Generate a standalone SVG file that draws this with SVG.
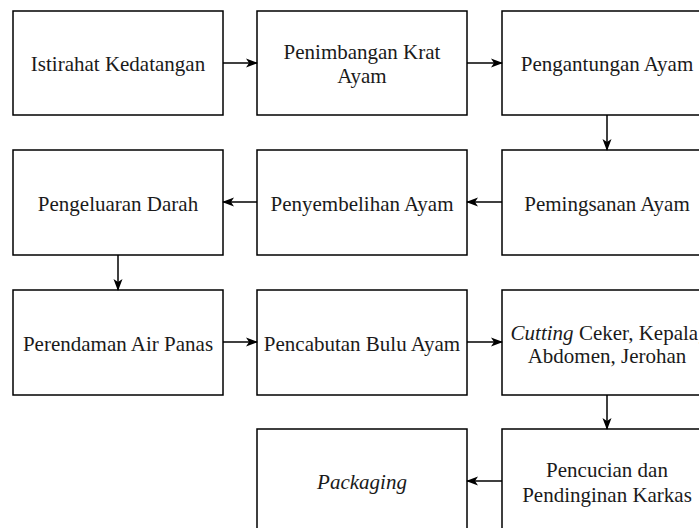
<svg xmlns="http://www.w3.org/2000/svg" width="699" height="528" viewBox="0 0 699 528">
<style>
.box{fill:#fff;stroke:#000;stroke-width:1.5}
.t{font-family:"Liberation Serif","Times New Roman",serif;font-size:21px;fill:#1a1a1a;text-anchor:middle}
.c{stroke:#000;stroke-width:1.5;fill:none;marker-end:url(#ah)}
</style>
<defs>
<marker id="ah" viewBox="0 0 12 10" refX="11" refY="5" markerWidth="12" markerHeight="10" markerUnits="userSpaceOnUse" orient="auto">
<path d="M0,0.5 L12,5 L0,9.5 L3,5 Z" fill="#000"/>
</marker>
</defs>
<rect width="699" height="528" fill="#fff"/>
<g id="n1"><rect class="box" x="13" y="11" width="210" height="104"/><text class="t" x="118" y="71">Istirahat Kedatangan</text></g>
<g id="n2"><rect class="box" x="257" y="11" width="210" height="104"/><text class="t" x="362" y="59">Penimbangan Krat</text><text class="t" x="362" y="83">Ayam</text></g>
<g id="n3"><rect class="box" x="502" y="11" width="210" height="104"/><text class="t" x="607" y="71">Pengantungan Ayam</text></g>
<g id="n4"><rect class="box" x="502" y="150" width="210" height="105"/><text class="t" x="607" y="211">Pemingsanan Ayam</text></g>
<g id="n5"><rect class="box" x="257" y="150" width="210" height="105"/><text class="t" x="362" y="211">Penyembelihan Ayam</text></g>
<g id="n6"><rect class="box" x="13" y="150" width="210" height="105"/><text class="t" x="118" y="211">Pengeluaran Darah</text></g>
<g id="n7"><rect class="box" x="13" y="290" width="210" height="105"/><text class="t" x="118" y="351">Perendaman Air Panas</text></g>
<g id="n8"><rect class="box" x="257" y="290" width="210" height="105"/><text class="t" x="362" y="351">Pencabutan Bulu Ayam</text></g>
<g id="n9"><rect class="box" x="502" y="290" width="210" height="105"/><text class="t" x="607" y="340"><tspan font-style="italic">Cutting</tspan> Ceker, Kepala,</text><text class="t" x="607" y="363">Abdomen, Jerohan</text></g>
<g id="n10"><rect class="box" x="502" y="429" width="210" height="105"/><text class="t" x="607" y="477">Pencucian dan</text><text class="t" x="607" y="502">Pendinginan Karkas</text></g>
<g id="n11"><rect class="box" x="257" y="429" width="210" height="105"/><text class="t" x="362" y="489" font-style="italic">Packaging</text></g>
<g id="connectors">
<path class="c" d="M223,63 H257"/>
<path class="c" d="M467,63 H502"/>
<path class="c" d="M607,115 V150"/>
<path class="c" d="M502,202 H467"/>
<path class="c" d="M257,202 H223"/>
<path class="c" d="M118,255 V290"/>
<path class="c" d="M223,342 H257"/>
<path class="c" d="M467,342 H502"/>
<path class="c" d="M607,395 V429"/>
<path class="c" d="M502,481 H467"/>
</g>
</svg>
